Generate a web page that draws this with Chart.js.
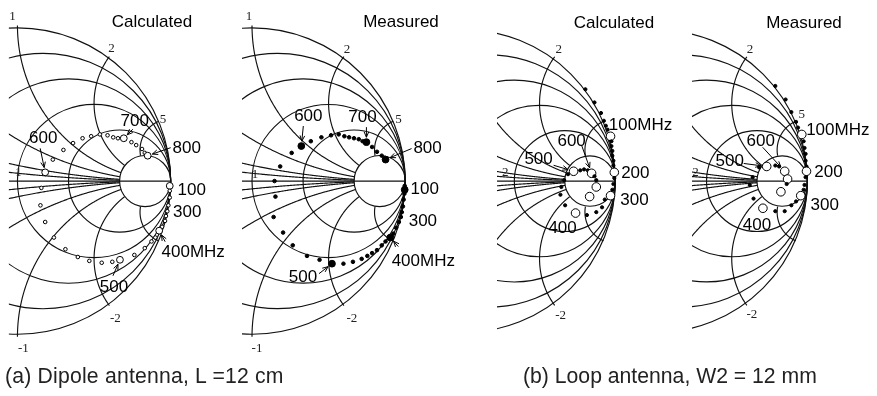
<!DOCTYPE html>
<html>
<head>
<meta charset="utf-8">
<script src="https://cdn.jsdelivr.net/npm/chart.js@4.4.1/dist/chart.umd.min.js"></script>
<style>
  html, body { margin: 0; padding: 0; background: #fff; }
  body { position: relative; width: 877px; height: 396px; overflow: hidden; }
  canvas { position: absolute; top: 0; }
  .caption { position: absolute; top: 364px; font: 21.2px/24px "Liberation Sans", Arial, sans-serif; color: #222; white-space: nowrap; }
</style>
</head>
<body>
<canvas id="dipCalc" width="236" height="366" style="left:0px;width:236px;height:366px"></canvas>
<canvas id="dipMeas" width="234" height="366" style="left:236px;width:234px;height:366px"></canvas>
<canvas id="loopCalc" width="196" height="366" style="left:486px;width:196px;height:366px"></canvas>
<canvas id="loopMeas" width="195" height="366" style="left:682px;width:195px;height:366px"></canvas>
<div class="caption" style="left:5px;letter-spacing:0.2px">(a) Dipole antenna, L =12 cm</div>
<div class="caption" style="left:523px">(b) Loop antenna, W2 = 12 mm</div>
<script>
// Smith chart grid values
const resistanceCircles = [0.2, 0.5, 1, 2, 5];
const reactanceArcs = [0.1, 0.2, 0.5, 1, 2, 5, -0.1, -0.2, -0.5, -1, -2, -5];

// reflection coefficient (real, imag) per frequency step
// (a) dipole, calculated
const dipCalcRe = [0.994, 0.994, 0.994, 0.985, 0.978, 0.969, 0.963, 0.944, 0.925, 0.900,
  0.875, 0.831, 0.763, 0.669, 0.619, 0.550, 0.469, 0.394, 0.313, 0.238,
  0.181, 0.150, 0.156, 0.181, 0.231, 0.300, 0.363, 0.425, 0.481, 0.538,
  0.588, 0.625, 0.656, 0.694, 0.744, 0.775, 0.813, 0.831, 0.850];
const dipCalcIm = [-0.031, -0.063, -0.106, -0.156, -0.194, -0.225, -0.256, -0.294, -0.319, -0.363,
  -0.388, -0.431, -0.475, -0.506, -0.519, -0.525, -0.513, -0.488, -0.438, -0.363,
  -0.263, -0.156, -0.044, 0.056, 0.138, 0.200, 0.244, 0.275, 0.288, 0.300,
  0.294, 0.281, 0.275, 0.275, 0.250, 0.231, 0.206, 0.181, 0.163];
const dipCalcMarked = [0, 8, 13, 23, 33, 38];

// (a) dipole, measured
const dipMeasRe = [0.997, 0.997, 0.995, 0.990, 0.985, 0.978, 0.972, 0.959, 0.941, 0.922,
  0.903, 0.872, 0.847, 0.816, 0.784, 0.753, 0.716, 0.659, 0.597, 0.522,
  0.441, 0.359, 0.266, 0.203, 0.141, 0.153, 0.147, 0.184, 0.259, 0.322,
  0.384, 0.453, 0.516, 0.566, 0.603, 0.634, 0.666, 0.697, 0.722, 0.747,
  0.784, 0.816, 0.847, 0.872];
const dipMeasIm = [-0.031, -0.056, -0.081, -0.119, -0.163, -0.200, -0.231, -0.263, -0.300, -0.338,
  -0.363, -0.388, -0.413, -0.444, -0.463, -0.481, -0.500, -0.519, -0.531, -0.531,
  -0.506, -0.481, -0.413, -0.331, -0.231, -0.100, 0.000, 0.094, 0.181, 0.225,
  0.256, 0.281, 0.294, 0.300, 0.288, 0.281, 0.275, 0.269, 0.256, 0.250,
  0.219, 0.188, 0.163, 0.138];
const dipMeasMarked = [1, 10, 19, 29, 39, 43];

// (b) loop, calculated
const loopCalcRe = [0.803, 0.863, 0.906, 0.925, 0.938, 0.950, 0.969, 0.975, 0.975, 0.981,
  0.981, 0.988, 0.988, 0.994, 0.994, 0.988, 0.981, 0.969, 0.931, 0.913,
  0.875, 0.813, 0.738, 0.669, 0.638, 0.644, 0.663, 0.688, 0.725, 0.769,
  0.794, 0.819, 0.844, 0.863, 0.875, 0.875, 0.831];
const loopCalcIm = [0.591, 0.506, 0.438, 0.388, 0.356, 0.331, 0.288, 0.256, 0.225, 0.194,
  0.163, 0.131, 0.100, 0.056, 0.019, -0.019, -0.056, -0.094, -0.119, -0.169,
  -0.200, -0.219, -0.206, -0.156, -0.088, -0.038, 0.006, 0.044, 0.063, 0.069,
  0.075, 0.069, 0.050, 0.031, 0.006, -0.038, -0.100];
const loopCalcMarked = [6, 13, 17, 22, 28, 32, 35, 36];

// (b) loop, measured
const loopMeasRe = [0.788, 0.856, 0.894, 0.925, 0.938, 0.963, 0.975, 0.981, 0.988, 0.988,
  0.994, 0.994, 0.988, 0.981, 0.975, 0.956, 0.925, 0.894, 0.850, 0.788,
  0.706, 0.644, 0.619, 0.638, 0.681, 0.731, 0.788, 0.813, 0.850, 0.869,
  0.863, 0.825];
const loopMeasIm = [0.612, 0.525, 0.444, 0.381, 0.344, 0.300, 0.256, 0.213, 0.175, 0.131,
  0.094, 0.063, 0.025, -0.025, -0.056, -0.094, -0.131, -0.156, -0.194, -0.194,
  -0.175, -0.113, -0.025, 0.025, 0.088, 0.094, 0.100, 0.094, 0.063, 0.013,
  -0.019, -0.069];
const loopMeasMarked = [5, 11, 15, 20, 25, 28, 29, 31];

const UNIT = 160;   // pixels per unit of |Γ|
const AXIS_Y = 181; // canvas row of the real axis
const LABEL_FONT = '17px "Liberation Sans", Arial, sans-serif';
const TICK_FONT = '13px "Liberation Serif", "Times New Roman", serif';

function gammaOf(r, x) {
  const d = (r + 1) * (r + 1) + x * x;
  return [(r * r - 1 + x * x) / d, 2 * x / d];
}

const panels = [
  {
    id: 'dipCalc', ox: 13, clipRe: -0.056,
    re: dipCalcRe, im: dipCalcIm, marked: dipCalcMarked,
    small: 1.8, big: 3.4, smallFill: '#fff', bigFill: '#fff',
    title: { text: 'Calculated', x: 152, y: 22 },
    ticks: [
      { kind: 'x', v: 1, text: '1', dx: -5, dy: -9 },
      { kind: 'x', v: 2, text: '2', dx: 2, dy: -8 },
      { kind: 'x', v: 5, text: '5', dx: 4, dy: -2 },
      { kind: 'r', v: 1, text: '1', dx: 1, dy: -8 },
      { kind: 'x', v: -2, text: '-2', dx: 6, dy: 13 },
      { kind: 'x', v: -1, text: '-1', dx: 6, dy: 12 }
    ],
    tags: [
      { at: 0, text: '100', dx: 22, dy: 4 },
      { at: 4, text: '300', dx: 20, dy: 1 },
      { at: 8, text: '400MHz', dx: 34, dy: 22, ax: 6, ay: 11 },
      { at: 13, text: '500', dx: -6, dy: 28, ax: -7, ay: 16 },
      { at: 23, text: '600', dx: -2, dy: -34, ax: -5, ay: -24 },
      { at: 33, text: '700', dx: 11, dy: -17, ax: 9, ay: -9 },
      { at: 38, text: '800', dx: 39, dy: -7, ax: 23, ay: -8 }
    ]
  },
  {
    id: 'dipMeas', ox: 11.5, clipRe: -0.066,
    re: dipMeasRe, im: dipMeasIm, marked: dipMeasMarked,
    small: 1.8, big: 3.4, smallFill: '#000', bigFill: '#000',
    title: { text: 'Measured', x: 165, y: 22 },
    ticks: [
      { kind: 'x', v: 1, text: '1', dx: -3, dy: -9 },
      { kind: 'x', v: 2, text: '2', dx: 3, dy: -7 },
      { kind: 'x', v: 5, text: '5', dx: 5, dy: -2 },
      { kind: 'r', v: 1, text: '1', dx: 3, dy: -6 },
      { kind: 'x', v: -2, text: '-2', dx: 8, dy: 13 },
      { kind: 'x', v: -1, text: '-1', dx: 5, dy: 12 }
    ],
    tags: [
      { at: 1, text: '100', dx: 20, dy: 0 },
      { at: 7, text: '300', dx: 24, dy: -1 },
      { at: 10, text: '400MHz', dx: 33, dy: 24, ax: 8, ay: 9 },
      { at: 19, text: '500', dx: -29, dy: 14, ax: -13, ay: 10 },
      { at: 29, text: '600', dx: 7, dy: -30, ax: 2, ay: -20 },
      { at: 39, text: '700', dx: -4, dy: -25, ax: 0, ay: -15 },
      { at: 43, text: '800', dx: 42, dy: -11, ax: 26, ay: -11 }
    ]
  },
  {
    id: 'loopCalc', ox: -29, clipRe: 0.219,
    re: loopCalcRe, im: loopCalcIm, marked: loopCalcMarked,
    small: 1.6, big: 4.3, smallFill: '#000', bigFill: '#fff',
    title: { text: 'Calculated', x: 128, y: 23 },
    ticks: [
      { kind: 'x', v: 2, text: '2', dx: 4, dy: -7 },
      { kind: 'r', v: 2, text: '2', dx: -9, dy: -8 },
      { kind: 'x', v: -2, text: '-2', dx: 6, dy: 10 }
    ],
    tags: [
      { at: 6, text: '100MHz', dx: 30, dy: -11 },
      { at: 13, text: '200', dx: 21, dy: 1 },
      { at: 17, text: '300', dx: 24, dy: 5 },
      { at: 22, text: '400', dx: -13, dy: 15 },
      { at: 28, text: '500', dx: -35, dy: -12, ax: -20, ay: -6 },
      { at: 32, text: '600', dx: -20, dy: -32, ax: -10, ay: -28 }
    ]
  },
  {
    id: 'loopMeas', ox: -33, clipRe: 0.2375,
    re: loopMeasRe, im: loopMeasIm, marked: loopMeasMarked,
    small: 1.6, big: 4.3, smallFill: '#000', bigFill: '#fff',
    title: { text: 'Measured', x: 122, y: 23 },
    ticks: [
      { kind: 'x', v: 2, text: '2', dx: 3, dy: -7 },
      { kind: 'r', v: 2, text: '2', dx: -11, dy: -8 },
      { kind: 'x', v: 5, text: '5', dx: 6, dy: -7 },
      { kind: 'x', v: -2, text: '-2', dx: 5, dy: 9 }
    ],
    tags: [
      { at: 5, text: '100MHz', dx: 36, dy: -4 },
      { at: 11, text: '200', dx: 22, dy: 1 },
      { at: 15, text: '300', dx: 24, dy: 10 },
      { at: 20, text: '400', dx: -6, dy: 17 },
      { at: 25, text: '500', dx: -37, dy: -5, ax: -23, ay: -3 },
      { at: 28, text: '600', dx: -24, dy: -30, ax: -22, ay: -24 }
    ]
  }
];

function drawArrow(ctx, x0, y0, x1, y1) {
  const a = Math.atan2(y1 - y0, x1 - x0), h = 6;
  ctx.beginPath();
  ctx.moveTo(x0, y0);
  ctx.lineTo(x1, y1);
  ctx.moveTo(x1 - h * Math.cos(a - 0.4), y1 - h * Math.sin(a - 0.4));
  ctx.lineTo(x1, y1);
  ctx.lineTo(x1 - h * Math.cos(a + 0.4), y1 - h * Math.sin(a + 0.4));
  ctx.stroke();
}

const smithGrid = {
  id: 'smithGrid',
  beforeDatasetsDraw(chart, args, opts) {
    const { ctx, scales: { x, y } } = chart;
    const px = v => x.getPixelForValue(v);
    const py = v => y.getPixelForValue(v);
    const k = px(1) - px(0);
    ctx.save();
    ctx.beginPath();
    ctx.rect(px(opts.clipRe), 0, chart.width, chart.height);
    ctx.clip();
    ctx.strokeStyle = '#111';
    ctx.lineWidth = 1.15;
    // rim (r = 0) and constant resistance circles
    [0, ...resistanceCircles].forEach(r => {
      ctx.beginPath();
      ctx.arc(px(r / (1 + r)), py(0), k / (1 + r), 0, 2 * Math.PI);
      ctx.stroke();
    });
    // reactance arcs, from the rim in to the r = 5 circle
    const rEnd = resistanceCircles[resistanceCircles.length - 1];
    reactanceArcs.forEach(xv => {
      ctx.beginPath();
      for (let i = 0; i <= 240; i++) {
        const g = gammaOf(rEnd * i / 240, xv);
        if (i === 0) ctx.moveTo(px(g[0]), py(g[1]));
        else ctx.lineTo(px(g[0]), py(g[1]));
      }
      ctx.stroke();
    });
    ctx.beginPath();
    ctx.moveTo(px(opts.clipRe), py(0));
    ctx.lineTo(px(1), py(0));
    ctx.stroke();
    ctx.restore();
  },
  afterDatasetsDraw(chart, args, opts) {
    const { ctx, scales: { x, y } } = chart;
    const px = v => x.getPixelForValue(v);
    const py = v => y.getPixelForValue(v);
    ctx.save();
    ctx.textAlign = 'center';
    ctx.textBaseline = 'middle';

    ctx.fillStyle = '#222';
    ctx.font = TICK_FONT;
    opts.ticks.forEach(t => {
      const g = t.kind === 'x' ? gammaOf(0, t.v) : [(t.v - 1) / (t.v + 1), 0];
      ctx.fillText(t.text, px(g[0]) + t.dx, py(g[1]) + t.dy);
    });

    ctx.fillStyle = '#000';
    ctx.strokeStyle = '#000';
    ctx.lineWidth = 1;
    ctx.font = LABEL_FONT;
    ctx.fillText(opts.title.text, opts.title.x, opts.title.y);
    opts.tags.forEach(t => {
      const x0 = px(opts.re[t.at]), y0 = py(opts.im[t.at]);
      ctx.fillText(t.text, x0 + t.dx, y0 + t.dy);
      if (t.ax !== undefined) {
        const len = Math.hypot(t.ax, t.ay);
        const gap = (opts.marked.includes(t.at) ? opts.big : opts.small) + 1.5;
        drawArrow(ctx, x0 + t.ax, y0 + t.ay, x0 + t.ax * gap / len, y0 + t.ay * gap / len);
      }
    });
    ctx.restore();
  }
};

panels.forEach(p => {
  const canvas = document.getElementById(p.id);
  const W = canvas.width, H = canvas.height;
  new Chart(canvas, {
    type: 'scatter',
    data: {
      datasets: [{
        data: p.re.map((v, i) => ({ x: v, y: p.im[i] })),
        pointRadius: c => p.marked.includes(c.dataIndex) ? p.big : p.small,
        pointBackgroundColor: c => p.marked.includes(c.dataIndex) ? p.bigFill : p.smallFill,
        pointBorderColor: '#000',
        pointBorderWidth: 1,
        showLine: false,
        clip: false
      }]
    },
    options: {
      responsive: false,
      animation: false,
      events: [],
      layout: { padding: 0 },
      scales: {
        x: { type: 'linear', display: false, min: -p.ox / UNIT, max: (W - p.ox) / UNIT },
        y: { type: 'linear', display: false, min: (AXIS_Y - H) / UNIT, max: AXIS_Y / UNIT }
      },
      plugins: {
        legend: { display: false },
        tooltip: { enabled: false },
        smithGrid: p
      }
    },
    plugins: [smithGrid]
  });
});
</script>
</body>
</html>
